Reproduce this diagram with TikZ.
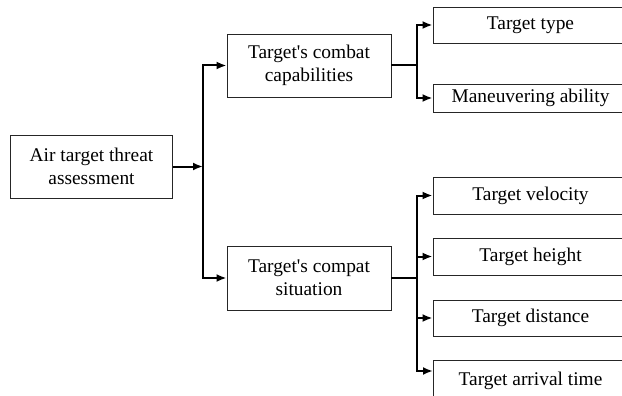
\documentclass[tikz,border=0pt]{standalone}
\usepackage{fontspec}
\setmainfont{Liberation Serif}
\usetikzlibrary{arrows.meta}
\begin{document}
\begin{tikzpicture}[x=1pt,y=-1pt,
  box/.style={draw=black!85,line width=0.9pt,inner sep=0pt,align=center,font=\fontsize{19.4}{23}\selectfont},
  conn/.style={line width=2pt},
  arr/.style={conn,-{Latex[length=10pt,width=8pt]}}]
\useasboundingbox (0,0) rectangle (622,396);
\fill[white] (0,0) rectangle (622,396);
\node[box,minimum width=162pt,minimum height=63pt] (air) at (91.5,166.5) {Air target threat\\assessment};
\node[box,minimum width=164pt,minimum height=63pt] (comb) at (309,65.5) {Target\textquotesingle s combat\\capabilities};
\node[box,minimum width=164pt,minimum height=64pt] (sit) at (309,278) {Target\textquotesingle s compat\\situation};
\node[box,minimum width=195pt,minimum height=36pt] (type) at (530.5,25) {Target type};
\node[box,minimum width=195pt,minimum height=28pt] (man) at (530.5,98) {Maneuvering ability};
\node[box,minimum width=195pt,minimum height=37pt] (vel) at (530.5,195.5) {Target velocity};
\node[box,minimum width=195pt,minimum height=37pt] (hei) at (530.5,256.5) {Target height};
\node[box,minimum width=195pt,minimum height=36pt] (dis) at (530.5,318) {Target distance};
\node[box,minimum width=195pt,minimum height=42pt] (arv) at (530.5,381) {Target arrival time};
\coordinate (j1) at (203,166.5);
\coordinate (j2) at (417,65.5);
\coordinate (j3) at (417,278);
\coordinate (a4) at (433,371);
\draw[arr] (air.east) -- (j1);
\draw[arr] (j1) |- (comb.west);
\draw[arr] (j1) |- (sit.west);
\draw[conn] (comb.east) -- (j2);
\draw[arr] (j2) |- (type.west);
\draw[arr] (j2) |- (man.west);
\draw[conn] (sit.east) -- (j3);
\draw[arr] (j3) |- (vel.west);
\draw[arr] (j3) |- (hei.west);
\draw[arr] (j3) |- (dis.west);
\draw[arr] (j3) |- (a4);
\end{tikzpicture}
\end{document}
